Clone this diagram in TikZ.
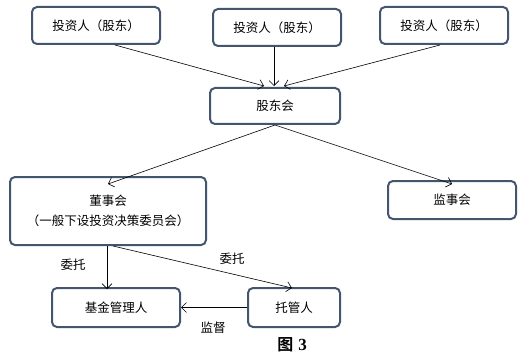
\documentclass[tikz,border=0pt]{standalone}
\usepackage{fontspec}
\newfontfamily\cjk{Noto Sans CJK SC}[BoldFont={Noto Sans CJK SC Bold}]
\newfontfamily\serifb{Liberation Serif}
\usetikzlibrary{arrows.meta}
\definecolor{boxc}{RGB}{68,86,110}
\tikzset{
  box/.style={draw=boxc, line width=2pt, rounded corners=5pt, fill=white, inner sep=0pt, font=\cjk\fontsize{12.5}{15}\selectfont, align=center},
  arr/.style={draw=black, line width=0.6pt, -{Straight Barb[length=5pt,width=10pt,line width=0.6pt]}},
  lbl/.style={font=\cjk\fontsize{12.5}{14}\selectfont, inner sep=0pt}
}
\begin{document}
\begin{tikzpicture}[x=1pt,y=-1pt]
\useasboundingbox (0,0) rectangle (529,358);
\fill[white] (0,0) rectangle (529,358);
\node[box, minimum width=128pt, minimum height=37pt] (i1) at (96,25.5) {投资人（股东）};
\node[box, minimum width=128pt, minimum height=37pt] (i2) at (277,27.5) {投资人（股东）};
\node[box, minimum width=128pt, minimum height=37pt] (i3) at (444,25.5) {投资人（股东）};
\node[box, minimum width=130pt, minimum height=36pt] (g) at (275,106) {股东会};
\node[box, minimum width=196pt, minimum height=68pt] (d) at (108,211) {董事会\\[5pt]（一般下设投资决策委员会）};
\node[box, minimum width=128pt, minimum height=38pt] (j) at (452,200) {监事会};
\node[box, minimum width=128pt, minimum height=39pt] (m) at (116,307.5) {基金管理人};
\node[box, minimum width=92pt, minimum height=39pt] (t) at (294,307.5) {托管人};
\coordinate (gt) at (274,86);
\draw[arr] (i1.south) ++(19,0) -- ([xshift=-10pt]gt);
\draw[arr] (i2.south) ++(-3,0) -- (gt);
\draw[arr] (i3.south) ++(-4,0) -- ([xshift=10pt]gt);
\draw[arr] (g.south) -- ([yshift=-8pt]d.north);
\draw[arr] (g.south) -- ([yshift=-4pt]j.north);
\draw[arr] (d.south) ++(-1,0) -- ([xshift=-9pt,yshift=-2pt]m.north);
\draw[arr] (d.south) ++(5,0) -- ([xshift=-2pt,yshift=-1pt]t.north);
\draw[arr] (t.west) -- (m.east);
\node[lbl] (w1) at (73,265) {委托};
\node[lbl] (w2) at (232,259) {委托};
\node[lbl] (jd) at (213,328) {监督};
\node[inner sep=0pt] (fig) at (292,345) {\cjk\bfseries\fontsize{16}{18}\selectfont 图\hspace{5pt}\serifb\bfseries\fontsize{17}{18}\selectfont 3};
\end{tikzpicture}
\end{document}
